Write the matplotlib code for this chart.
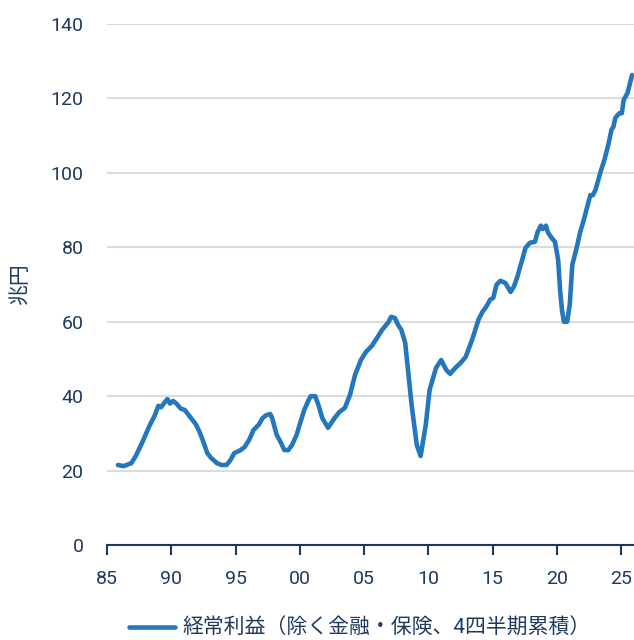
import matplotlib.pyplot as plt

# (year, trillion yen)
years = [1985.85, 1986.3, 1986.9, 1987.25, 1987.8, 1988.3, 1988.7, 1989.0, 1989.2,
         1989.5, 1989.7, 1989.9, 1990.15, 1990.4, 1990.75, 1991.05, 1991.4, 1991.9,
         1992.2, 1992.5, 1992.8, 1993.1, 1993.3, 1993.55, 1993.9, 1994.3, 1994.6,
         1994.9, 1995.4, 1995.7, 1996.05, 1996.4, 1996.8, 1997.1, 1997.4, 1997.7,
         1997.85, 1998.2, 1998.5, 1998.8, 1999.1, 1999.4, 1999.75, 2000.05, 2000.35,
         2000.65, 2000.85, 2001.2, 2001.45, 2001.75, 2002.2, 2002.7, 2003.1, 2003.5,
         2003.9, 2004.3, 2004.75, 2005.15, 2005.6, 2006.0, 2006.4, 2006.9, 2007.1,
         2007.4, 2007.65, 2007.9, 2008.2, 2008.7, 2009.1, 2009.4, 2009.8, 2010.1,
         2010.6, 2011.0, 2011.4, 2011.7, 2012.1, 2012.5, 2012.9, 2013.4, 2013.9,
         2014.2, 2014.5, 2014.8, 2015.05, 2015.3, 2015.6, 2016.0, 2016.4, 2016.65,
         2016.9, 2017.3, 2017.55, 2017.9, 2018.3, 2018.5, 2018.75, 2018.9, 2019.15,
         2019.3, 2019.6, 2019.85, 2020.1, 2020.25, 2020.4, 2020.55, 2020.8, 2021.0,
         2021.2, 2021.5, 2021.8, 2022.1, 2022.4, 2022.6, 2022.8, 2023.0, 2023.4,
         2023.7, 2024.0, 2024.25, 2024.4, 2024.55, 2024.85, 2025.05, 2025.2, 2025.5,
         2025.85]
profit = [21.5, 21.2, 22.0, 24.0, 28.0, 32.0, 34.7, 37.4, 37.0,
          38.4, 39.2, 38.0, 38.7, 38.0, 36.6, 36.3, 34.7, 32.5,
          30.4, 27.7, 24.7, 23.4, 22.8, 22.0, 21.5, 21.5, 22.8,
          24.7, 25.5, 26.3, 28.2, 30.9, 32.3, 34.1, 34.9, 35.2,
          34.1, 29.6, 27.7, 25.5, 25.5, 26.9, 29.6, 33.0, 36.3,
          38.7, 40.0, 40.0, 37.6, 34.1, 31.5, 34.1, 35.8, 36.8,
          40.3, 45.7, 49.7, 51.9, 53.5, 55.6, 57.8, 59.9, 61.3,
          61.0, 59.1, 57.8, 54.3, 37.6, 26.9, 23.9, 32.3, 41.7,
          47.6, 49.7, 47.0, 46.0, 47.6, 48.9, 50.5, 55.1, 60.5,
          62.6, 64.0, 65.9, 66.4, 69.9, 71.0, 70.4, 68.0, 69.4,
          71.8, 76.6, 79.8, 81.2, 81.5, 84.1, 85.8, 84.9, 85.8,
          84.0, 82.5, 81.5, 76.6, 68.5, 63.0, 60.0, 60.0, 64.5,
          75.3, 79.3, 83.9, 87.4, 91.4, 94.0, 94.0, 95.4, 100.3,
          103.5, 107.5, 111.6, 112.4, 114.8, 116.0, 116.0, 119.6, 121.5,
          126.3]

xticks = [1985, 1990, 1995, 2000, 2005, 2010, 2015, 2020, 2025]
xlabels = ['85', '90', '95', '00', '05', '10', '15', '20', '25']
yticks = [0, 20, 40, 60, 80, 100, 120, 140]

navy = '#1f3a5f'
blue = '#2577bd'

plt.rcParams['font.family'] = ['Roboto', 'Noto Sans CJK JP', 'DejaVu Sans']

fig = plt.figure(figsize=(6.34, 6.4), dpi=100)
ax = fig.add_axes([107/634, 1 - 545/640, 1 - 107/634, (545 - 24)/640])

ax.plot(years, profit, color=blue, lw=3.3, solid_capstyle='round',
        solid_joinstyle='round', label='経常利益（除く金融・保険、4四半期累積）')

ax.set_xlim(1985, 2026)
ax.set_ylim(0, 140)
ax.set_xticks(xticks)
ax.set_xticklabels(xlabels)
ax.set_yticks(yticks)
ax.grid(axis='y', color='#dcdcdc', lw=1.5)
ax.set_axisbelow(True)
for s in ['top', 'right', 'left']:
    ax.spines[s].set_visible(False)
ax.spines['bottom'].set_color(navy)
ax.spines['bottom'].set_linewidth(1.5)
ax.tick_params(axis='x', colors=navy, length=7, width=1.5, labelsize=14, pad=11)
ax.tick_params(axis='y', colors=navy, length=0, labelsize=14, pad=17)
ax.set_ylabel('兆円', color=navy, fontsize=15, family=['Noto Sans CJK JP'], labelpad=14)

fig.legend(loc='center', bbox_to_anchor=(0.568, 1 - 628/640), frameon=False,
           handlelength=2.2, handletextpad=0.35, labelcolor=navy,
           prop={'family': ['Roboto', 'Noto Sans CJK JP'], 'size': 15})

fig.savefig('out.png', dpi=100)
